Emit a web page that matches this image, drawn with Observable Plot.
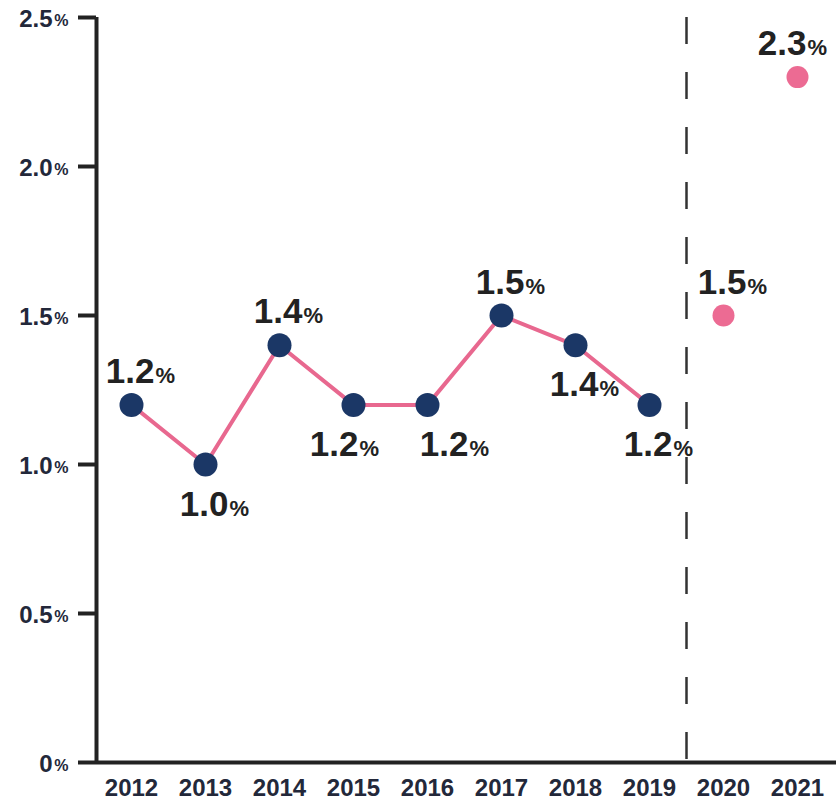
<!DOCTYPE html>
<html><head><meta charset="utf-8">
<script src="https://cdn.jsdelivr.net/npm/d3@7"></script>
<script src="https://cdn.jsdelivr.net/npm/@observablehq/plot@0.6"></script>
<style>body{margin:0;background:#fff}</style>
</head><body><div id="chart"></div>
<script>
const years = [2012, 2013, 2014, 2015, 2016, 2017, 2018, 2019, 2020, 2021];
const values = [1.2, 1.0, 1.4, 1.2, 1.2, 1.5, 1.4, 1.2, 1.5, 2.3];
const kinds = ["actual","actual","actual","actual","actual","actual","actual","actual","forecast","forecast"];
const labelSide = ["above","below","above","below","below","above","below","below","above","above"];
const yTicks = [0, 0.5, 1.0, 1.5, 2.0, 2.5];
const dividerYear = 2019.5;

const data = years.map((year, i) => ({year, value: values[i], kind: kinds[i], side: labelSide[i]}));
const actual = data.filter(d => d.kind === "actual");
const forecast = data.filter(d => d.kind === "forecast");
const xDomain = [2011.527, 2021.527];
const yDomain = [0, 2.5];
const num = d => d === 0 ? "0" : d.toFixed(1);
const font = "'Liberation Sans', Arial, sans-serif";

// horizontal nudge of each value label, derived from neighbouring labels (collision / edge avoidance)
function nudge(d, i) {
  const prev = data[i - 1], next = data[i + 1];
  if (!next) return -6;
  if (next.side === d.side && next.value === d.value) return -10;
  if (prev && prev.side === d.side && prev.value === d.value) return 26;
  return 8;
}
data.forEach((d, i) => { d.nudge = nudge(d, i); });

const valueLabels = [];
for (const side of ["above", "below"]) {
  const dy = side === "above" ? -22 : 51;
  for (const n of Array.from(new Set(data.map(d => d.nudge)))) {
    const rows = data.filter(d => d.side === side && d.nudge === n);
    if (!rows.length) continue;
    valueLabels.push(
      Plot.text(rows, {x: "year", y: "value", text: d => num(d.value), textAnchor: "end", lineAnchor: "bottom", dy, dx: n + 15, fontSize: 35, fontWeight: "bold", fill: "#222"}),
      Plot.text(rows, {x: "year", y: "value", text: () => "%", textAnchor: "start", lineAnchor: "bottom", dy, dx: n + 16, fontSize: 22, fontWeight: "bold", fill: "#222"})
    );
  }
}

const chart = Plot.plot({
  width: 836, height: 801,
  marginLeft: 96, marginRight: 0, marginTop: 17, marginBottom: 39,
  style: {fontFamily: font, background: "white", overflow: "visible"},
  x: {domain: xDomain},
  y: {domain: yDomain},
  marks: [
    Plot.axisY({ticks: yTicks, tickSize: 18, tickFormat: () => "", stroke: "#222", strokeWidth: 4, label: null}),
    Plot.text(yTicks, {x: xDomain[0], y: d => d, text: d => num(d), textAnchor: "end", lineAnchor: "middle", dx: -44, dy: 2, fontSize: 24, fontWeight: "bold", fill: "#23283a", letterSpacing: 1.5}),
    Plot.text(yTicks, {x: xDomain[0], y: d => d, text: () => "%", textAnchor: "end", lineAnchor: "middle", dx: -28, dy: 3, fontSize: 16, fontWeight: "bold", fill: "#23283a"}),
    Plot.axisX({ticks: years, tickSize: 0, tickPadding: 16, tickFormat: d => String(d), fontSize: 24, fontWeight: "bold", color: "#23283a", letterSpacing: 1, label: null}),
    Plot.ruleX([dividerYear], {y1: yDomain[1], y2: yDomain[0], stroke: "#333", strokeWidth: 2.5, strokeDasharray: "27,28"}),
    Plot.ruleX([xDomain[0]], {y1: yDomain[0], y2: yDomain[1], stroke: "#222", strokeWidth: 4}),
    Plot.ruleY([0], {stroke: "#222", strokeWidth: 4}),
    Plot.line(actual, {x: "year", y: "value", stroke: "#e8688f", strokeWidth: 4}),
    Plot.dot(actual, {x: "year", y: "value", r: 12, fill: "#1b3766"}),
    Plot.dot(forecast, {x: "year", y: "value", r: 11, fill: "#ec6b93"}),
    ...valueLabels
  ]
});
document.getElementById("chart").appendChild(chart);
</script>
</body></html>
